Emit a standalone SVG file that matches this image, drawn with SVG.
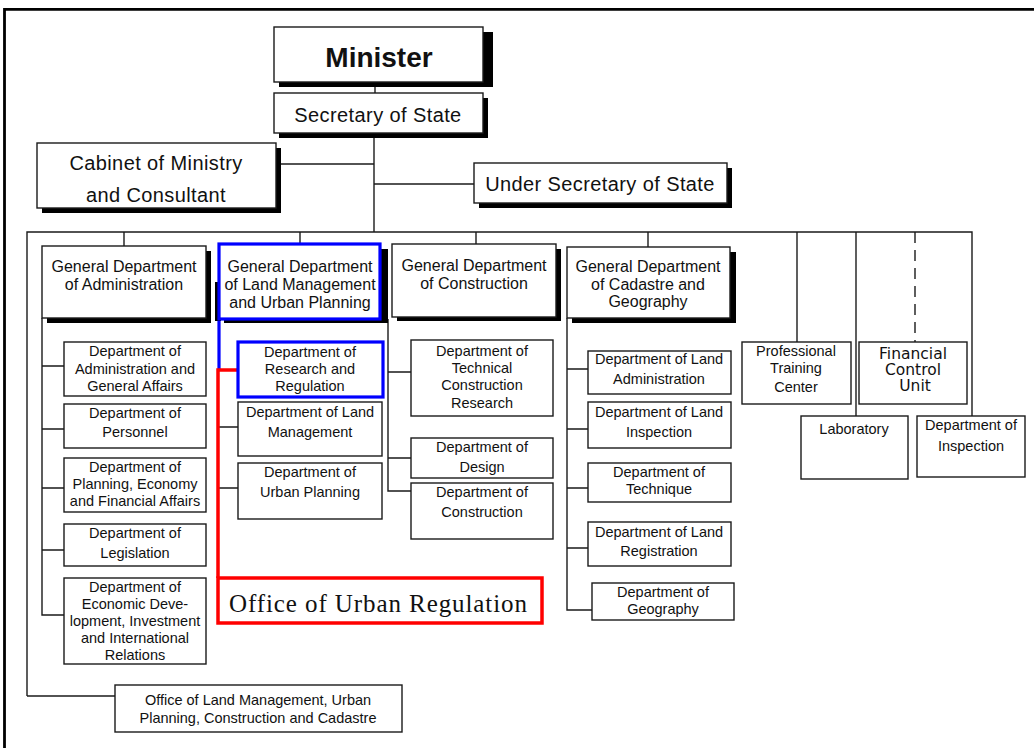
<svg xmlns="http://www.w3.org/2000/svg" width="1034" height="748" viewBox="0 0 1034 748">
<style>
.box{fill:#fff;stroke:#1a1a1a;stroke-width:1.4}
.sh{fill:#000}
.t{font-family:"Liberation Sans",Arial,sans-serif;font-size:14.5px;text-anchor:middle;fill:#111}
.gd{font-size:16px}
.big{font-size:20px;letter-spacing:0.4px}
.conn{stroke:#1a1a1a;stroke-width:1.4;fill:none}
.blue{fill:#fff;stroke:#0000ff;stroke-width:3.2}
.red{stroke:#ff0000;stroke-width:3.5;fill:none}
.dv{font-family:"DejaVu Sans",Verdana,sans-serif;font-size:15.5px;text-anchor:middle;fill:#111}
</style>
<rect width="1034" height="748" fill="#fff"/>
<!-- frame -->
<path d="M4.5 748 V9.3 H1034" fill="none" stroke="#000" stroke-width="2.8"/>

<g id="connectors">
  <path class="conn" d="M375 82 V93"/>
  <path class="conn" d="M374 133 V232"/>
  <path class="conn" d="M281 164 H374"/>
  <path class="conn" d="M374 184 H474"/>
  <path class="conn" d="M27 696 V232 H972 V416"/>
  <path class="conn" d="M27 696 H115"/>
  <path class="conn" d="M124 232 V246"/>
  <path class="conn" d="M300 232 V244"/>
  <path class="conn" d="M476 232 V244"/>
  <path class="conn" d="M648 232 V247"/>
  <path class="conn" d="M797 232 V342"/>
  <path class="conn" d="M856 232 V416"/>
  <path class="conn" d="M915 232 V342" stroke-dasharray="11 7"/>
  <!-- admin column -->
  <path class="conn" d="M42 318 V615 H64"/>
  <path class="conn" d="M42 366 H64 M42 429 H64 M42 488 H64 M42 550 H64"/>
  <!-- land column -->
  <path class="conn" d="M219 427 H238 M219 488 H238"/>
  <path d="M219 319 V370" stroke="#0000ff" stroke-width="3.2" fill="none"/>
  <path class="red" d="M218 578 V370 H238"/>
  <!-- construction column -->
  <path class="conn" d="M388 319 V491 H411 M388 372 H411 M388 458 H411"/>
  <!-- cadastre column -->
  <path class="conn" d="M567 318 V610 H592 M567 369 H588 M567 429 H588 M567 488 H588 M567 548 H588"/>
</g>

<g id="minister">
  <rect class="sh" x="279" y="32" width="214" height="55"/>
  <rect class="box" x="274" y="27" width="209" height="55"/>
  <text class="t" x="379" y="67" style="font-size:28px;font-weight:bold">Minister</text>
</g>
<g id="secretary">
  <rect class="sh" x="279" y="98" width="209" height="40"/>
  <rect class="box" x="274" y="93" width="209" height="40"/>
  <text class="t big" x="378" y="122">Secretary of State</text>
</g>
<g id="cabinet">
  <rect class="sh" x="42" y="148" width="239" height="65"/>
  <rect class="box" x="37" y="143" width="239" height="65"/>
  <text class="t big" x="156" y="170">Cabinet of Ministry</text>
  <text class="t big" x="156" y="202">and Consultant</text>
</g>
<g id="under-secretary">
  <rect class="sh" x="479" y="168" width="253" height="40"/>
  <rect class="box" x="474" y="163" width="253" height="40"/>
  <text class="t big" x="600" y="191">Under Secretary of State</text>
</g>

<g id="gd-admin">
  <rect class="sh" x="47" y="251" width="164" height="72"/>
  <rect class="box" x="42" y="246" width="164" height="72"/>
  <text class="t gd" x="124" y="272">General Department</text>
  <text class="t gd" x="124" y="290">of Administration</text>
</g>
<g id="gd-land">
  <rect class="sh" x="215" y="282" width="6" height="39"/>
  <rect class="sh" x="224" y="249" width="164" height="74"/>
  <rect class="blue" x="219" y="244" width="161" height="75"/>
  <text class="t gd" x="300" y="272">General Department</text>
  <text class="t gd" x="300" y="290">of Land Management</text>
  <text class="t gd" x="300" y="308">and Urban Planning</text>
</g>
<g id="gd-construction">
  <rect class="sh" x="397" y="249" width="164" height="72"/>
  <rect class="box" x="392" y="244" width="164" height="73"/>
  <text class="t gd" x="474" y="271">General Department</text>
  <text class="t gd" x="474" y="289">of Construction</text>
</g>
<g id="gd-cadastre">
  <rect class="sh" x="572" y="252" width="164" height="71"/>
  <rect class="box" x="567" y="247" width="163" height="71"/>
  <text class="t gd" x="648" y="272">General Department</text>
  <text class="t gd" x="648" y="290">of Cadastre and</text>
  <text class="t gd" x="648" y="307">Geography</text>
</g>

<g id="dept-admin-general">
  <rect class="box" x="64" y="342" width="142" height="54"/>
  <text class="t" x="135" y="356">Department of</text>
  <text class="t" x="135" y="374">Administration and</text>
  <text class="t" x="135" y="391">General Affairs</text>
</g>
<g id="dept-personnel">
  <rect class="box" x="64" y="404" width="142" height="44"/>
  <text class="t" x="135" y="418">Department of</text>
  <text class="t" x="135" y="437">Personnel</text>
</g>
<g id="dept-planning">
  <rect class="box" x="64" y="458" width="142" height="54"/>
  <text class="t" x="135" y="472">Department of</text>
  <text class="t" x="135" y="489">Planning, Economy</text>
  <text class="t" x="135" y="506">and Financial Affairs</text>
</g>
<g id="dept-legislation">
  <rect class="box" x="64" y="524" width="142" height="42"/>
  <text class="t" x="135" y="538">Department of</text>
  <text class="t" x="135" y="558">Legislation</text>
</g>
<g id="dept-economic">
  <rect class="box" x="64" y="578" width="142" height="86"/>
  <text class="t" x="135" y="592">Department of</text>
  <text class="t" x="135" y="609">Economic Deve-</text>
  <text class="t" x="135" y="626">lopment, Investment</text>
  <text class="t" x="135" y="643">and International</text>
  <text class="t" x="135" y="660">Relations</text>
</g>

<g id="dept-research">
  <rect class="blue" x="238" y="342" width="145" height="55"/>
  <text class="t" x="310" y="357">Department of</text>
  <text class="t" x="310" y="374">Research and</text>
  <text class="t" x="310" y="391">Regulation</text>
</g>
<g id="dept-land-management">
  <rect class="box" x="238" y="402" width="144" height="54"/>
  <text class="t" x="310" y="417">Department of Land</text>
  <text class="t" x="310" y="437">Management</text>
</g>
<g id="dept-urban-planning">
  <rect class="box" x="238" y="463" width="144" height="56"/>
  <text class="t" x="310" y="477">Department of</text>
  <text class="t" x="310" y="497">Urban Planning</text>
</g>
<g id="office-urban-regulation">
  <rect class="red" x="218" y="578" width="324" height="45"/>
  <text x="229" y="612" textLength="298" style="font-family:'Liberation Serif','Times New Roman',serif;font-size:25px;fill:#111">Office of Urban Regulation</text>
</g>

<g id="dept-technical">
  <rect class="box" x="411" y="340" width="142" height="76"/>
  <text class="t" x="482" y="356">Department of</text>
  <text class="t" x="482" y="373">Technical</text>
  <text class="t" x="482" y="390">Construction</text>
  <text class="t" x="482" y="408">Research</text>
</g>
<g id="dept-design">
  <rect class="box" x="411" y="438" width="142" height="40"/>
  <text class="t" x="482" y="452">Department of</text>
  <text class="t" x="482" y="472">Design</text>
</g>
<g id="dept-construction">
  <rect class="box" x="411" y="483" width="142" height="56"/>
  <text class="t" x="482" y="497">Department of</text>
  <text class="t" x="482" y="517">Construction</text>
</g>

<g id="dept-land-administration">
  <rect class="box" x="588" y="351" width="143" height="43"/>
  <text class="t" x="659" y="364">Department of Land</text>
  <text class="t" x="659" y="384">Administration</text>
</g>
<g id="dept-land-inspection">
  <rect class="box" x="588" y="402" width="143" height="46"/>
  <text class="t" x="659" y="417">Department of Land</text>
  <text class="t" x="659" y="437">Inspection</text>
</g>
<g id="dept-technique">
  <rect class="box" x="588" y="463" width="143" height="39"/>
  <text class="t" x="659" y="477">Department of</text>
  <text class="t" x="659" y="494">Technique</text>
</g>
<g id="dept-land-registration">
  <rect class="box" x="588" y="522" width="143" height="44"/>
  <text class="t" x="659" y="537">Department of Land</text>
  <text class="t" x="659" y="556">Registration</text>
</g>
<g id="dept-geography">
  <rect class="box" x="592" y="583" width="142" height="37"/>
  <text class="t" x="663" y="597">Department of</text>
  <text class="t" x="663" y="614">Geography</text>
</g>

<g id="professional-training">
  <rect class="box" x="742" y="342" width="109" height="62"/>
  <text class="t" x="796" y="356">Professional</text>
  <text class="t" x="796" y="373">Training</text>
  <text class="t" x="796" y="392">Center</text>
</g>
<g id="financial-control">
  <rect class="box" x="859" y="342" width="108" height="62"/>
  <text class="dv" x="913" y="359">Financial</text>
  <text class="dv" x="913" y="375">Control</text>
  <text class="dv" x="915" y="391">Unit</text>
</g>
<g id="laboratory">
  <rect class="box" x="801" y="416" width="107" height="63"/>
  <text class="t" x="854" y="434">Laboratory</text>
</g>
<g id="dept-inspection">
  <rect class="box" x="917" y="416" width="108" height="61"/>
  <text class="t" x="971" y="430">Department of</text>
  <text class="t" x="971" y="451">Inspection</text>
</g>

<g id="office-land">
  <rect class="box" x="115" y="685" width="287" height="47"/>
  <text class="t" x="258" y="705">Office of Land Management, Urban</text>
  <text class="t" x="258" y="723">Planning, Construction and Cadastre</text>
</g>
</svg>
